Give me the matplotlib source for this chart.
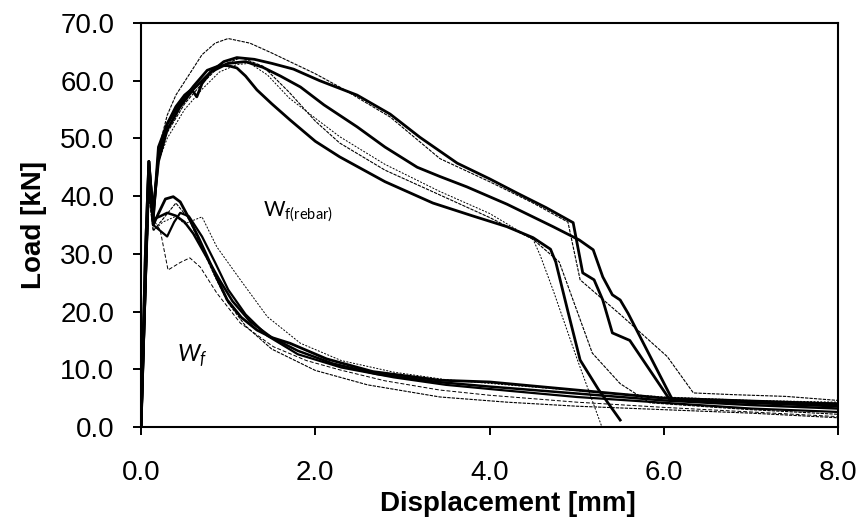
import numpy as np
import matplotlib.pyplot as plt

plt.rcParams['font.family'] = ['Liberation Sans', 'DejaVu Sans']
plt.rcParams['mathtext.fontset'] = 'custom'
plt.rcParams['mathtext.rm'] = 'Lato'
plt.rcParams['mathtext.it'] = 'Lato:italic'

# ---- specimens with rebar ----
rebar_A_x = [0, 0.05, 0.09, 0.14, 0.2, 0.3, 0.4, 0.5, 0.58, 0.64, 0.7, 0.8, 0.95, 1.1, 1.3, 1.5, 1.75, 2.05, 2.48, 2.86, 3.2, 3.63, 4.0, 4.32, 4.65, 4.96, 5.07, 5.2, 5.3, 5.41, 5.61, 6.07, 6.5, 7.0, 7.5, 8.0]
rebar_A_y = [0, 30, 46, 36.5, 47, 52.5, 55.5, 57.5, 58.5, 57.2, 59.5, 61.5, 63.3, 64.0, 63.7, 63.0, 62.0, 60.0, 57.5, 54.2, 50.2, 45.7, 43.0, 40.5, 38.0, 35.4, 26.7, 25.5, 22.0, 16.3, 15.0, 4.7, 4.5, 4.2, 3.9, 3.6]

rebar_B_x = [0, 0.09, 0.14, 0.2, 0.3, 0.45, 0.6, 0.8, 1.0, 1.2, 1.4, 1.6, 1.83, 2.1, 2.48, 2.8, 3.17, 3.43, 3.74, 4.2, 4.73, 5.03, 5.19, 5.3, 5.41, 5.5, 5.59, 6.1, 6.6, 7.2, 8.0]
rebar_B_y = [0, 45, 37.5, 46, 51.5, 55.5, 58.5, 61.5, 63.0, 63.3, 62.3, 60.8, 58.9, 55.8, 52.0, 48.5, 45.0, 43.4, 41.6, 38.6, 34.7, 32.4, 30.7, 26.0, 22.9, 22.0, 19.7, 4.7, 4.6, 4.3, 4.0]

rebar_C_x = [0, 0.09, 0.14, 0.2, 0.3, 0.4, 0.55, 0.7, 0.85, 1.0, 1.25, 1.5, 1.75, 2.0, 2.28, 2.86, 3.43, 4.0, 4.5, 4.9, 5.04, 5.5, 6.04, 6.34, 6.8, 7.4, 8.0]
rebar_C_y = [0, 44, 38, 48, 54, 57.5, 61, 64.5, 66.5, 67.3, 66.5, 64.8, 63, 61.2, 58.9, 53.7, 46.5, 42.5, 38.8, 35.5, 25.5, 19.5, 12.2, 5.9, 5.6, 5.3, 4.6]

rebar_D_x = [0, 0.09, 0.14, 0.2, 0.3, 0.45, 0.6, 0.76, 0.9, 1.0, 1.1, 1.2, 1.33, 1.5, 1.71, 2.0, 2.28, 2.8, 3.35, 3.8, 4.2, 4.5, 4.7, 4.76, 4.9, 5.04, 5.25, 5.5]
rebar_D_y = [0, 46, 36, 48.5, 52.5, 56, 59, 61.8, 62.6, 62.6, 62.2, 60.8, 58.4, 56, 53.2, 49.5, 46.8, 42.5, 38.8, 36.6, 34.7, 32.8, 30.8, 28.6, 20, 11.6, 6.5, 1.2]

rebar_E_x = [0, 0.09, 0.14, 0.2, 0.3, 0.5, 0.7, 0.9, 1.1, 1.25, 1.45, 1.7, 2.0, 2.28, 2.8, 3.43, 4.0, 4.5, 4.58, 4.73, 5.0, 5.29]
rebar_E_y = [0, 45.5, 37, 46, 50, 55, 58.5, 61.5, 62.8, 63, 61, 57, 53.5, 50.3, 45.5, 40.8, 37, 32.5, 29.8, 23.7, 12, 0]

rebar_F_x = [0, 0.09, 0.14, 0.2, 0.3, 0.5, 0.7, 0.9, 1.15, 1.4, 1.7, 2.0, 2.28, 2.8, 3.43, 4.0, 4.5, 4.8, 5.18, 5.5, 5.84, 6.5, 7.0, 8.0]
rebar_F_y = [0, 45, 38, 47, 51, 56, 59.5, 62.5, 64, 62.5, 58, 53, 49.2, 44.5, 40.2, 36.3, 32.5, 28.6, 12.8, 7.5, 4.2, 3.5, 3.0, 2.2]

# ---- fibre-only specimens ----
fibre_1_x = [0, 0.05, 0.09, 0.14, 0.2, 0.28, 0.37, 0.45, 0.56, 0.66, 0.76, 0.87, 0.99, 1.15, 1.33, 1.5, 1.71, 2.13, 2.66, 3.43, 4.0, 5.0, 6.0, 7.0, 8.0]
fibre_1_y = [0, 30, 46, 35, 37, 39.5, 39.9, 39.0, 35.9, 32.8, 29.5, 25.8, 22.0, 19.0, 16.8, 15.5, 14.5, 11.8, 9.6, 8.1, 7.8, 6.4, 5.0, 4.5, 4.0]

fibre_2_x = [0, 0.09, 0.14, 0.22, 0.3, 0.4, 0.5, 0.6, 0.75, 0.9, 1.05, 1.25, 1.5, 1.8, 2.2, 2.7, 3.4, 4.0, 5.0, 6.0, 7.0, 8.0]
fibre_2_y = [0, 44, 36, 36.5, 37.1, 36.6, 35.5, 33.5, 29.5, 25.5, 21.8, 18.3, 15.5, 13.2, 11.0, 9.2, 7.8, 7.0, 5.8, 4.6, 3.8, 3.2]

fibre_3_x = [0, 0.09, 0.14, 0.22, 0.3, 0.38, 0.45, 0.55, 0.7, 0.85, 1.0, 1.2, 1.45, 1.8, 2.3, 2.9, 3.5, 4.2, 5.0, 6.0, 7.0, 8.0]
fibre_3_y = [0, 42, 35, 34, 33, 35.5, 37.1, 36.5, 33.0, 28.5, 23.8, 19.5, 15.8, 12.6, 10.3, 8.6, 7.3, 6.3, 5.2, 4.2, 3.2, 2.6]

fibre_4_x = [0, 0.09, 0.14, 0.22, 0.31, 0.45, 0.56, 0.68, 0.87, 1.14, 1.52, 1.9, 2.28, 2.8, 3.43, 4.0, 5.0, 6.0, 7.0, 8.0]
fibre_4_y = [0, 40, 36, 34.1, 27.2, 28.5, 29.3, 27.7, 23.2, 18.0, 13.9, 11.5, 9.9, 8.0, 6.4, 5.5, 4.3, 3.4, 2.6, 1.8]

fibre_5_x = [0, 0.09, 0.14, 0.25, 0.4, 0.5, 0.6, 0.7, 0.87, 1.14, 1.45, 1.83, 2.3, 2.9, 3.5, 4.2, 5.0, 6.0, 7.0, 8.0]
fibre_5_y = [0, 42, 34, 35.5, 36.5, 35.2, 35.8, 36.4, 31.2, 25.5, 19.1, 14.5, 11.5, 9.5, 8.2, 7.3, 6.3, 5.2, 4.6, 4.3]

fibre_6_x = [0, 0.09, 0.14, 0.25, 0.4, 0.55, 0.7, 0.85, 1.0, 1.2, 1.5, 2.0, 2.6, 3.43, 4.2, 5.0, 6.0, 7.0, 8.0]
fibre_6_y = [0, 40, 34, 36, 38.8, 36, 31, 26, 21.5, 17.5, 13.5, 9.8, 7.3, 5.2, 4.3, 3.6, 3.0, 2.4, 1.6]

thin = (0, (3, 1))
curves = [(rebar_A_x, rebar_A_y, 2.0, '-'), (rebar_B_x, rebar_B_y, 2.0, '-'),
          (rebar_C_x, rebar_C_y, 0.8, thin), (rebar_D_x, rebar_D_y, 2.0, '-'),
          (rebar_E_x, rebar_E_y, 0.7, (0, (2, 1.5))), (rebar_F_x, rebar_F_y, 0.8, thin),
          (fibre_1_x, fibre_1_y, 2.0, '-'), (fibre_2_x, fibre_2_y, 1.8, '-'),
          (fibre_3_x, fibre_3_y, 1.6, '-'), (fibre_4_x, fibre_4_y, 0.7, (0, (4, 2))),
          (fibre_5_x, fibre_5_y, 0.7, (0, (2, 1.5))), (fibre_6_x, fibre_6_y, 0.8, thin)]

fig = plt.figure(figsize=(8.61, 5.18), dpi=100)
ax = fig.add_axes([0.1638, 0.1757, 0.8095, 0.78])

for xs, ys, lw, ls in curves:
    ax.plot(xs, ys, color='black', lw=lw, ls=ls)

ax.set_xlim(0, 8)
ax.set_ylim(0, 70)
xt = np.arange(0, 8.1, 2)
yt = np.arange(0, 70.1, 10)
ax.set_xticks(xt)
ax.set_yticks(yt)
ax.set_xticklabels(['%.1f' % v for v in xt])
ax.set_yticklabels(['%.1f' % v for v in yt])
ax.tick_params(direction='out', length=5.8, width=1.4, labelsize=20)
ax.tick_params(axis='x', pad=18)
ax.tick_params(axis='y', pad=13.5)
for s in ax.spines.values():
    s.set_linewidth(1.5)

ax.set_xlabel('Displacement [mm]', fontsize=20, fontweight='bold')
ax.xaxis.set_label_coords(0.527, -0.158)
ax.set_ylabel('Load [kN]', fontsize=20, fontweight='bold')
ax.yaxis.set_label_coords(-0.135, 0.5)

ax.text(1.40, 36.4, r'$\mathrm{W}_{\mathrm{f(rebar)}}$', fontsize=15, va='baseline', ha='left')
ax.text(0.41, 11.3, r'$W_f$', fontsize=17, va='baseline', ha='left')

fig.savefig('out.png', dpi=100)
